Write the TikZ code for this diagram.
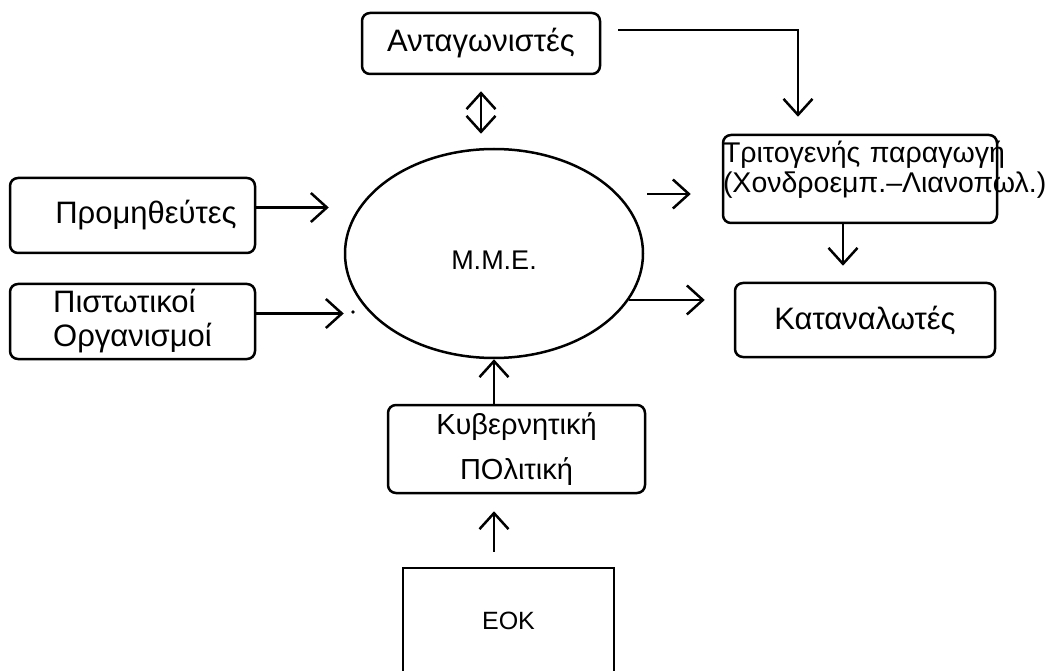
\documentclass[tikz,border=0pt]{standalone}
\usepackage{fontspec}
\setmainfont{Liberation Sans}
\usetikzlibrary{shapes.geometric,arrows.meta}
\begin{document}
\begin{tikzpicture}[x=1pt,y=-1pt, line width=2.5pt,
  >={Straight Barb[length=16pt,width=29pt]},
  box/.style={draw, rounded corners=8pt, inner sep=0pt, font=\bigfont}]
  \def\bigfont{\fontsize{31}{34}\selectfont}

  \clip (0,0) rectangle (1061,671);

  \node [box, minimum width=238pt, minimum height=61pt] (anta) at (481,43.5) {Ανταγωνιστές};
  \node [box, minimum width=245pt, minimum height=75pt] (prom) at (132.5,215.5) {\hspace*{27pt}Προμηθεύτες};
  \node [box, minimum width=245pt, minimum height=75pt, align=left] (pist) at (132.5,321.5) {Πιστωτικοί\\Οργανισμοί};
  \node [ellipse, draw, minimum width=298pt, minimum height=209pt, inner sep=0pt,
    text height=33pt, text depth=0pt, font=\fontsize{27}{30}\selectfont] (mme) at (494,253.5) {Μ.Μ.Ε.};
  \node [box, minimum width=274pt, minimum height=88pt, text width=274pt, align=left,
    font=\fontsize{28.5}{30}\selectfont] (trit) at (860,179)
    {\mbox{Τριτογενής παραγωγή}\\\mbox{(Χονδροεμπ.–Λιανοπωλ.)}\\[-6pt]\mbox{}};
  \node [box, minimum width=260pt, minimum height=74pt] (kat) at (865,320) {Καταναλωτές};
  \node [box, minimum width=257pt, minimum height=88pt, align=center,
    font=\fontsize{29}{45}\selectfont] (kyv) at (516.5,449) {Κυβερνητική\\ΠΟλιτική};
  \node [draw, minimum width=211pt, minimum height=106pt, font=\fontsize{25}{30}\selectfont] (eok) at (508.5,621) {ΕΟΚ};

  %% Ανταγωνιστές
  \draw [->] ([shift={(17,-13.5)}]anta.east) -| ([shift={(-62,-17)}]trit.north);
  \draw [<->, shorten <=16pt, shorten >=14pt] (anta.south) -- (anta.south |- mme.north);

  %% into Μ.Μ.Ε.
  \draw [->, shorten >=15pt] ([yshift=8pt]prom.east) -- ([yshift=8pt]prom.east -| mme.west);
  \draw [->] ([yshift=8pt]pist.east) -- ([yshift=8pt]pist.east -| mme.west);
  \fill (353,312) circle (1.8pt);
  \draw [->] (mme.south |- kyv.north) -- (mme.south);
  \draw [->, shorten <=15pt, shorten >=17pt] (mme.south |- eok.north) -- (mme.south |- kyv.south);

  %% out of Μ.Μ.Ε.
  \draw [->, shorten <=3pt, shorten >=31pt] ([yshift=-15pt]mme.east |- trit.west) -- ([yshift=-15pt]trit.west);
  \draw [->, shorten >=29pt] (mme.-19) -- (mme.-19 -| kat.west);
  \draw [->, shorten >=16pt] ([xshift=-17pt]trit.south) -- ([xshift=-17pt]trit.south |- kat.north);

\end{tikzpicture}
\end{document}
